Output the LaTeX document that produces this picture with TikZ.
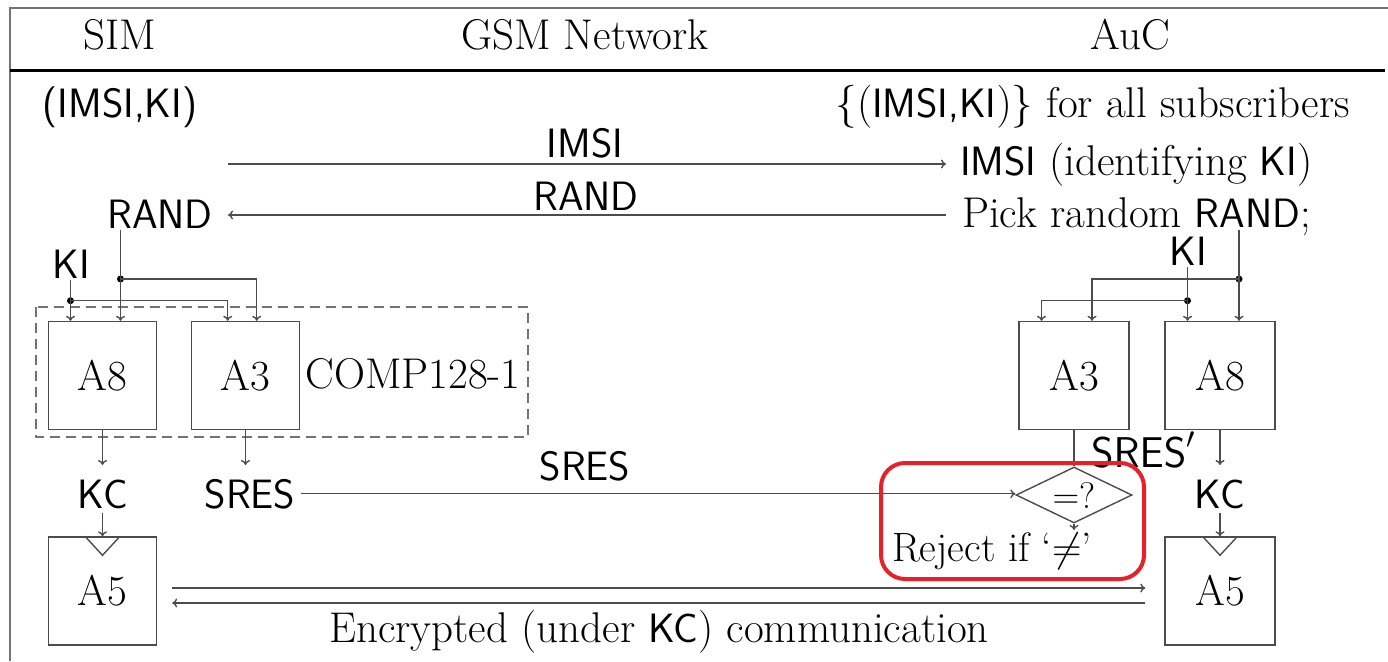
\RequirePackage{fix-cm}
\documentclass[tikz,border=0pt]{standalone}
\usetikzlibrary{arrows.meta,shapes.geometric,calc}
\definecolor{hl}{HTML}{E8202A}
\newcommand\ssf[1]{{\fontsize{41}{49}\selectfont\sffamily #1}}
\begin{document}
\begin{tikzpicture}[x=1pt,y=-1pt,
  every node/.style={font=\fontsize{43}{51}\selectfont, inner sep=0pt, text=black},
  sf/.style={font=\fontsize{41}{49}\selectfont\sffamily},
  ln/.style={line width=1.4pt, draw=black!70},
  arr/.style={ln, -{To[length=5pt,width=9pt]}},
  box/.style={draw=black!70, line width=1.4pt, minimum width=108pt, minimum height=108pt},
  dot/.style={circle, fill=black, inner sep=0pt, minimum size=7pt},
  frame/.style={draw=black!55, line width=1.5pt}
]
\useasboundingbox (0,0) rectangle (1388,661);
% frame
\draw[frame] (10,661) -- (10,8) -- (1388,8);
\draw[line width=3.5pt] (10,70.5) -- (1385,70.5);
% headers
\node[anchor=base] (hsim) at (120,50) {SIM};
\node[anchor=base] (hgsm) at (585,50) {GSM Network};
\node[anchor=base] (hauc) at (1130,50) {AuC};
% first row
\node[sf, anchor=base] (simkey) at (120,117) {(IMSI,KI)};
\node[anchor=base east] (auckeys) at (1350,117) {$\{($\ssf{IMSI,KI}$)\}$ for all subscribers};
% IMSI
\coordinate (imsiS) at (228,164);
\coordinate (imsiE) at (946,164);
\node[anchor=base west] (imsiauc) at (960,175) {\ssf{IMSI} (identifying \ssf{KI})};
\draw[arr] (imsiS) -- (imsiE);
\node[sf, anchor=base] (imsilab) at (585,157) {IMSI};
% RAND
\node[sf, anchor=base] (randl) at (160,228) {RAND};
\node[anchor=base west] (pick) at (962,227) {Pick random \ssf{RAND};};
\coordinate (randS) at (946,215);
\coordinate (randE) at (228,215);
\draw[arr] (randS) -- (randE);
\node[sf, anchor=base] (randlab) at (586,210) {RAND};
% left side boxes
\draw[draw=black!55, line width=1.6pt, dash pattern=on 10pt off 6pt] (36,307) rectangle (528,437);
\node[box] (a8l) at (102.5,375.5) {A8};
\node[box] (a3l) at (245.5,375.5) {A3};
\node[anchor=base] (comp) at (413,388) {COMP128-1};
\node[sf, anchor=base] (kil) at (71,278) {KI};
\node[dot] (dr1) at (120.5,279) {};
\node[dot] (dk1) at (70.5,300.7) {};
\draw[ln] ([yshift=-2pt]randl.south -| dr1) -- (dr1.center);
\draw[arr] (dr1.center) -- (dr1 |- a8l.north);
\draw[arr] (dr1.center) -| ([xshift=11.2pt]a3l.north);
\draw[ln] ([yshift=-2pt]kil.base -| dk1) -- (dk1.center);
\draw[arr] (dk1.center) -- (dk1 |- a8l.north);
\draw[arr] (dk1.center) -| ([xshift=-17.8pt]a3l.north);
% left outputs
\node[sf, anchor=base] (kcl) at (103,508) {KC};
\node[sf, anchor=base] (sresl) at (250,508) {SRES};
\draw[arr] (a8l.south) -- (a8l.south |- 0,465);
\draw[arr] (a3l.south) -- (a3l.south |- 0,465);
\node[box] (a5l) at (102.5,591) {A5};
\draw[arr] (a5l.north |- 0,513) -- (a5l.north);
\draw[ln] ([xshift=-17.5pt]a5l.north) -- ([yshift=-19pt]a5l.north) -- ([xshift=17.5pt]a5l.north);
% right side boxes
\node[box, minimum width=110pt] (a3r) at (1074,375.5) {A3};
\node[box, minimum width=110pt] (a8r) at (1220,375.5) {A8};
\node[sf, anchor=base] (kir) at (1188,265) {KI};
\node[dot] (dr2) at (1239,279) {};
\node[dot] (dk2) at (1187.5,300.7) {};
\draw[ln] ([yshift=-3pt]pick.base -| dr2) -- (dr2.center);
\draw[arr] (dr2.center) -- (dr2 |- a8r.north);
\draw[arr] (dr2.center) -| ([xshift=18pt]a3r.north);
\draw[ln] ([yshift=-2pt]kir.base -| dk2) -- (dk2.center);
\draw[arr] (dk2.center) -- (dk2 |- a8r.north);
\draw[arr] (dk2.center) -| ([xshift=-32.5pt]a3r.north);
% comparison
\node[diamond, draw=black!70, line width=1.4pt, minimum width=116pt, minimum height=56pt, shape aspect=2.07] (dia) at (1074,495) {};
\node[font=\fontsize{37}{44}\selectfont] (eq) at (1074,496) {$=$?};
\draw[arr] (a3r.south) -- (dia.north);
\node[anchor=base west] (sresp) at (1091,467) {$\mathsf{SRES}'$};
\draw[arr] ([xshift=5pt]sresl.east) -- (sresl.east -| dia.west);
\node[sf, anchor=base] (sreslab) at (585,480) {SRES};
\node[anchor=base, font=\fontsize{41}{49}\selectfont] (rej) at (992,561) {Reject if `$\neq$'};
\draw[arr] (dia.south) -- ([yshift=2pt]dia.south |- rej.north);
% right outputs
\node[sf, anchor=base] (kcr) at (1220,508) {KC};
\draw[arr] (a8r.south) -- (a8r.south |- 0,465);
\node[box, minimum width=110pt] (a5r) at (1220,591) {A5};
\draw[arr] (a5r.north |- 0,513) -- (a5r.north);
\draw[ln] ([xshift=-17.5pt]a5r.north) -- ([yshift=-19pt]a5r.north) -- ([xshift=17.5pt]a5r.north);
% encrypted communication
\draw[arr] ([xshift=15pt,yshift=3pt]a5l.east) -- ([xshift=-19pt,yshift=3pt]a5r.west);
\draw[arr] ([xshift=-19pt,yshift=-12pt]a5r.west) -- ([xshift=15pt,yshift=-12pt]a5l.east);
\node[anchor=base] (enc) at (659,642) {Encrypted (under \ssf{KC}) communication};
% highlight
\draw[hl, line width=4pt, rounded corners=24pt] (881,463) rectangle (1144,579);
\end{tikzpicture}
\end{document}
